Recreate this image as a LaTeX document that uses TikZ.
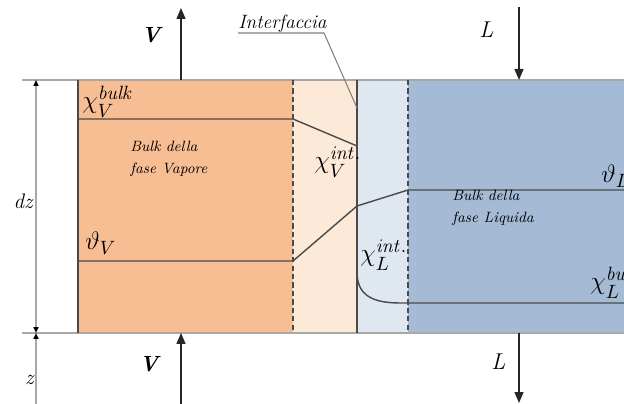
\documentclass[tikz,border=0pt]{standalone}
\usepackage{amsmath}
\usepackage{tikz}
\usetikzlibrary{arrows.meta,positioning,calc}
\definecolor{vapbulk}{HTML}{F7BD93}
\definecolor{vapfilm}{HTML}{FCE9D7}
\definecolor{liqfilm}{HTML}{DFE7F1}
\definecolor{liqbulk}{HTML}{A5BAD5}
\definecolor{edgegray}{HTML}{4A4A4A}
\definecolor{dimgray}{HTML}{A8A8A8}
\tikzset{
    secline/.style={draw=dimgray, line width=0.9pt},
    border/.style={draw=edgegray, line width=0.9pt},
    filmline/.style={draw=edgegray, line width=0.9pt, dash pattern=on 3pt off 1.8pt},
    profile/.style={draw=edgegray, line width=0.8pt},
    flow/.style={draw=black!85, line width=0.8pt, -{Triangle[length=2.2mm,width=1.8mm]}},
    dimline/.style={draw=dimgray, line width=1.1pt},
    conc/.style={font=\fontsize{15}{18}\selectfont, inner sep=0pt},
    bulklabel/.style={font=\fontsize{8.5}{13}\selectfont\itshape, align=left, inner sep=0pt},
    flowlabel/.style={font=\fontsize{13}{15}\selectfont\itshape, inner sep=0pt},
    dimlabel/.style={font=\fontsize{12}{14}\selectfont\itshape, inner sep=0pt}
}
\begin{document}
\begin{tikzpicture}[x=0.02cm, y=-0.02cm]
\useasboundingbox (0,0) rectangle (624,404);

% Phase regions
\fill[vapbulk] (78,80) rectangle (293,333);
\fill[vapfilm] (293,80) rectangle (357,333);
\fill[liqfilm] (357,80) rectangle (408,333);
\fill[liqbulk] (408,80) rectangle (624,333);

% Section limits
\coordinate (tl) at (22,80);
\coordinate (tr) at (624,80);
\coordinate (bl) at (22,333);
\coordinate (br) at (624,333);
\draw[secline] (tl) -- (tr);
\draw[secline] (bl) -- (br);

% Borders and films
\draw[border] (78,80) -- (78,333);
\draw[border] (357,80) -- (357,333);
\draw[filmline] (293,80) -- (293,333);
\draw[filmline] (408,80) -- (408,333);

% Profiles
\draw[profile] (78,119) -- (293,119) -- (357,146);
\draw[profile] (78,261) -- (293,261) -- (357,206) -- (408,190) -- (624,190);
\draw[profile] (357,272) .. controls (357,295) and (372,303) .. (400,303) -- (624,303);

% Vapour and liquid flows
\coordinate (vtop) at (181,80);
\coordinate (vout) at (181,8);
\coordinate (vin) at (181,404);
\coordinate (vbot) at (181,333);
\coordinate (lin) at (519,7);
\coordinate (ltop) at (519,80);
\coordinate (lbot) at (519,333);
\coordinate (lout) at (519,403);
\draw[flow] (vtop) -- (vout);
\draw[flow] (vin) -- (vbot);
\draw[flow] (lin) -- (ltop);
\draw[flow] (lbot) -- (lout);

\node[flowlabel, font=\fontsize{12.5}{14}\selectfont\bfseries\itshape, anchor=base west] (vup) at (141,43) {V};
\node[flowlabel, font=\fontsize{12.5}{14}\selectfont\bfseries\itshape, anchor=base west] (vdown) at (139,372) {V};
\node[flowlabel, anchor=base west] (lup) at (479,38) {L};
\node[flowlabel, anchor=base west] (ldown) at (491,370) {L};

% Height of the section
\coordinate (dztop) at (36,80);
\coordinate (dzbot) at (36,333);
\coordinate (zbot) at (36,404);
\draw[dimline, {Triangle[length=1.2mm,width=1mm,color=black]}-{Triangle[length=1.2mm,width=1mm,color=black]}] (dztop) -- (dzbot);
\draw[dimline, -{Triangle[length=1.2mm,width=1mm,color=black]}] (zbot) -- (dzbot);
\node[dimlabel, anchor=base east] (dz) at (33,209) {dz};
\node[dimlabel, anchor=base east] (z) at (34,384) {z};

% Interface callout
\node[font=\fontsize{11}{13}\selectfont\itshape, inner sep=0pt, anchor=base west] (intf) at (238,29) {Interfaccia};
\coordinate (ul) at (238,33);
\coordinate (ur) at (324,33);
\coordinate (ifc) at (357,108);
\draw[draw=gray, line width=0.6pt] (ul) -- (ur) -- (ifc);

% Bulk labels
\node[bulklabel, anchor=base west] (vapbulk) at (130,174) {Bulk della\\fase Vapore};
\node[bulklabel, anchor=base west] (liqbulk) at (452,223) {Bulk della\\fase Liquida};

% Concentrations and temperatures
\node[conc, anchor=base west] (xvb) at (82,109) {$\chi^{\mathit{bulk}}_{V}$};
\node[conc, anchor=base west] (xvi) at (314,169) {$\chi^{\mathit{int.}}_{V}$};
\node[conc, anchor=base west] (tv) at (85,250) {$\vartheta_{V}$};
\node[conc, anchor=base west] (tl) at (601,183) {$\vartheta_{L}$};
\node[conc, anchor=base west] (xli) at (360,262) {$\chi^{\mathit{int.}}_{L}$};
\node[conc, anchor=base west] (xlb) at (590,290) {$\chi^{\mathit{bulk}}_{L}$};
\end{tikzpicture}
\end{document}
